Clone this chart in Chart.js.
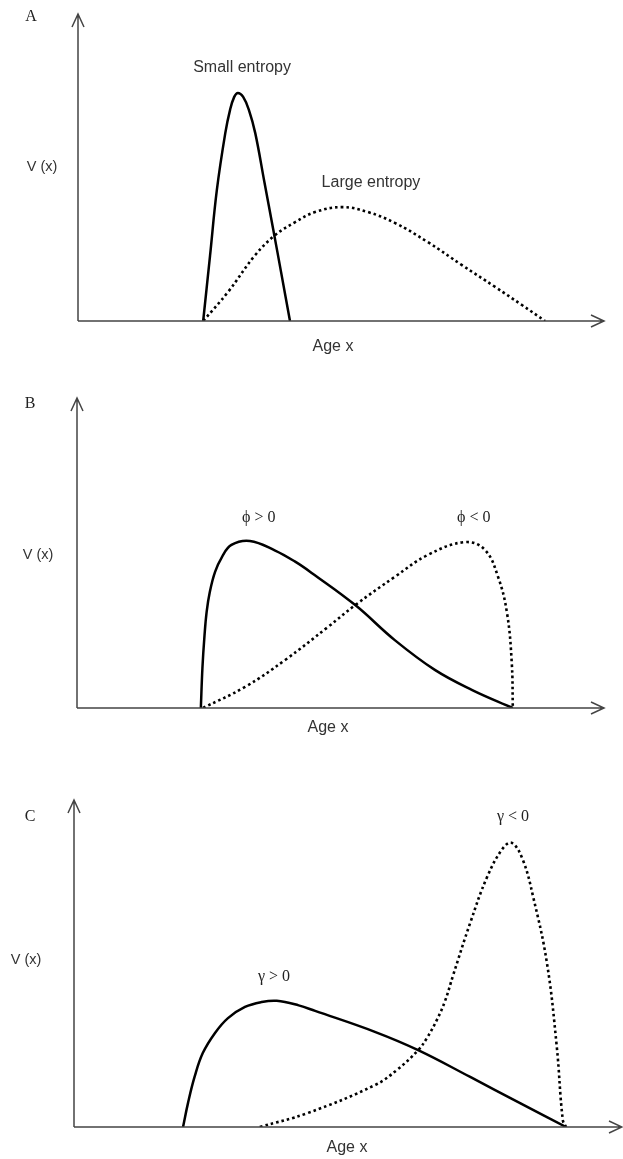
<!DOCTYPE html>
<html>
<head>
<meta charset="utf-8">
<script src="https://cdn.jsdelivr.net/npm/chart.js@4/dist/chart.umd.min.js"></script>
<style>
  html, body { margin: 0; padding: 0; background: #fff; }
  body { width: 623px; height: 1159px; position: relative; overflow: hidden; }
  .panel { position: absolute; left: 0; width: 623px; }
</style>
</head>
<body>
<div class="panel" style="top:0;height:380px"><canvas id="panel-a"></canvas></div>
<div class="panel" style="top:380px;height:390px"><canvas id="panel-b"></canvas></div>
<div class="panel" style="top:770px;height:389px"><canvas id="panel-c"></canvas></div>
<script>
// Age and V(x), both on a 0-100 scale of each panel's axes

// A: entropy
const smallEntropyAge = [23.8, 25.1, 26.4, 28.0, 28.9, 29.7, 30.4, 31.4, 32.5, 33.7, 35.4, 37.1, 38.6, 40.3];
const smallEntropyV = [0, 21.2, 42.7, 61.2, 68.7, 73.0, 74.3, 73.0, 68.7, 61.2, 45.6, 30.0, 16.0, 0];
const largeEntropyAge = [23.8, 28.5, 33.7, 37.5, 41.3, 45.1, 50.2, 55.1, 60.3, 66.5, 73.0, 79.3, 84.4, 88.8];
const largeEntropyV = [0, 9.4, 21.5, 28.0, 32.2, 35.5, 37.1, 35.5, 31.9, 25.7, 18.2, 11.1, 5.2, 0];

// B: phi
const phiPosAge = [23.5, 23.8, 24.2, 24.6, 25.2, 26.2, 27.5, 29.3, 32.8, 37.6, 41.4, 44.6, 52.8, 60.3, 67.9, 75.0, 82.7];
const phiPosV = [0, 12.9, 23.5, 31.0, 37.4, 43.9, 48.7, 52.6, 53.9, 50.8, 47.2, 43.5, 33.2, 21.9, 12.3, 5.8, 0];
const phiNegAge = [23.9, 31.9, 39.5, 47.6, 52.8, 60.3, 66.6, 73.6, 77.4, 79.9, 81.6, 82.5, 82.7];
const phiNegV = [0, 6.8, 15.5, 26.1, 33.2, 42.3, 49.4, 53.5, 51.0, 42.3, 30.6, 14.5, 0];

// C: gamma
const gammaPosAge = [19.9, 20.8, 22.0, 23.5, 25.7, 28.1, 31.2, 34.2, 37.0, 41.0, 44.0, 54.9, 62.8, 72.3, 81.4, 89.8];
const gammaPosV = [0, 7.3, 15.3, 22.6, 28.7, 33.3, 36.7, 38.2, 38.6, 37.2, 35.5, 29.1, 23.5, 15.3, 7.3, 0];
const gammaNegAge = [33.9, 42.7, 54.9, 58.9, 62.8, 64.4, 66.2, 67.7, 69.2, 72.3, 75.4, 78.3, 79.9, 81.9, 83.8, 86.3, 88.1, 89.2, 89.8];
const gammaNegV = [0, 4.3, 12.8, 17.4, 23.5, 27.2, 32.7, 38.5, 46.5, 62.4, 76.5, 85.3, 86.9, 81.7, 70.3, 50.2, 24.5, 2.1, 0];

const SANS = '"Liberation Sans", Arial, sans-serif';
const SERIF = '"Liberation Serif", "Times New Roman", serif';

function points(xs, ys) {
  return xs.map((x, i) => ({ x: x, y: ys[i] }));
}

function solid(xs, ys) {
  return {
    data: points(xs, ys),
    borderColor: "#000",
    borderWidth: 2.5,
    pointRadius: 0,
    tension: 0.4,
  };
}

function dotted(xs, ys) {
  return {
    data: points(xs, ys),
    borderColor: "#000",
    borderWidth: 2.6,
    borderDash: [2.6, 3],
    borderCapStyle: "butt",
    pointRadius: 0,
    tension: 0.4,
  };
}

// draws the arrow axes and all the text
const sketchPlugin = {
  id: "sketch",
  afterDatasetsDraw(chart, args, opts) {
    const ctx = chart.ctx;
    const a = chart.chartArea;
    const xs = chart.scales.x;
    const ys = chart.scales.y;

    ctx.save();
    ctx.strokeStyle = "#444";
    ctx.lineWidth = 1.5;
    ctx.lineCap = "butt";
    ctx.beginPath();
    ctx.moveTo(a.left, a.bottom);
    ctx.lineTo(a.left, a.top);
    ctx.moveTo(a.left - 6, a.top + 13);
    ctx.lineTo(a.left, a.top);
    ctx.lineTo(a.left + 6, a.top + 13);
    ctx.moveTo(a.left, a.bottom);
    ctx.lineTo(a.right, a.bottom);
    ctx.moveTo(a.right - 13, a.bottom - 6);
    ctx.lineTo(a.right, a.bottom);
    ctx.lineTo(a.right - 13, a.bottom + 6);
    ctx.stroke();

    ctx.textAlign = "center";
    ctx.textBaseline = "middle";

    ctx.fillStyle = "#222";
    ctx.font = "16px " + SERIF;
    ctx.fillText(opts.letter, opts.letterAt[0], opts.letterAt[1]);

    ctx.fillStyle = "#333";
    ctx.font = "14.5px " + SANS;
    ctx.fillText("V (x)", opts.vAt[0], opts.vAt[1]);
    ctx.font = "16px " + SANS;
    ctx.fillText("Age x", opts.ageAt[0], opts.ageAt[1]);

    opts.labels.forEach(function (l) {
      ctx.font = l.serif ? "16px " + SERIF : "16px " + SANS;
      ctx.fillStyle = l.serif ? "#222" : "#333";
      ctx.fillText(l.text, xs.getPixelForValue(l.x), ys.getPixelForValue(l.y));
    });
    ctx.restore();
  },
};

function makePanel(id, datasets, padding, sketch) {
  return new Chart(document.getElementById(id), {
    type: "line",
    data: { datasets: datasets },
    options: {
      responsive: true,
      maintainAspectRatio: false,
      animation: false,
      layout: { padding: padding },
      scales: {
        x: { type: "linear", min: 0, max: 100, display: false },
        y: { type: "linear", min: 0, max: 100, display: false },
      },
      plugins: {
        legend: { display: false },
        tooltip: { enabled: false },
        sketch: sketch,
      },
    },
    plugins: [sketchPlugin],
  });
}

makePanel(
  "panel-a",
  [solid(smallEntropyAge, smallEntropyV), dotted(largeEntropyAge, largeEntropyV)],
  { left: 78, right: 19, top: 14, bottom: 59 },
  {
    letter: "A",
    letterAt: [31, 17],
    vAt: [42, 167],
    ageAt: [333, 347],
    labels: [
      { text: "Small entropy", x: 31.2, y: 82.4 },
      { text: "Large entropy", x: 55.7, y: 45.0 },
    ],
  }
);

makePanel(
  "panel-b",
  [solid(phiPosAge, phiPosV), dotted(phiNegAge, phiNegV)],
  { left: 77, right: 19, top: 18, bottom: 62 },
  {
    letter: "B",
    letterAt: [30, 24],
    vAt: [38, 175],
    ageAt: [328, 348],
    labels: [
      { text: "\u03d5 > 0", x: 34.5, y: 61.3, serif: true },
      { text: "\u03d5 < 0", x: 75.3, y: 61.3, serif: true },
    ],
  }
);

makePanel(
  "panel-c",
  [solid(gammaPosAge, gammaPosV), dotted(gammaNegAge, gammaNegV)],
  { left: 74, right: 1, top: 30, bottom: 32 },
  {
    letter: "C",
    letterAt: [30, 47],
    vAt: [26, 190],
    ageAt: [347, 378],
    labels: [
      { text: "\u03b3 > 0", x: 36.5, y: 45.9, serif: true },
      { text: "\u03b3 < 0", x: 80.1, y: 94.8, serif: true },
    ],
  }
);
</script>
</body>
</html>
